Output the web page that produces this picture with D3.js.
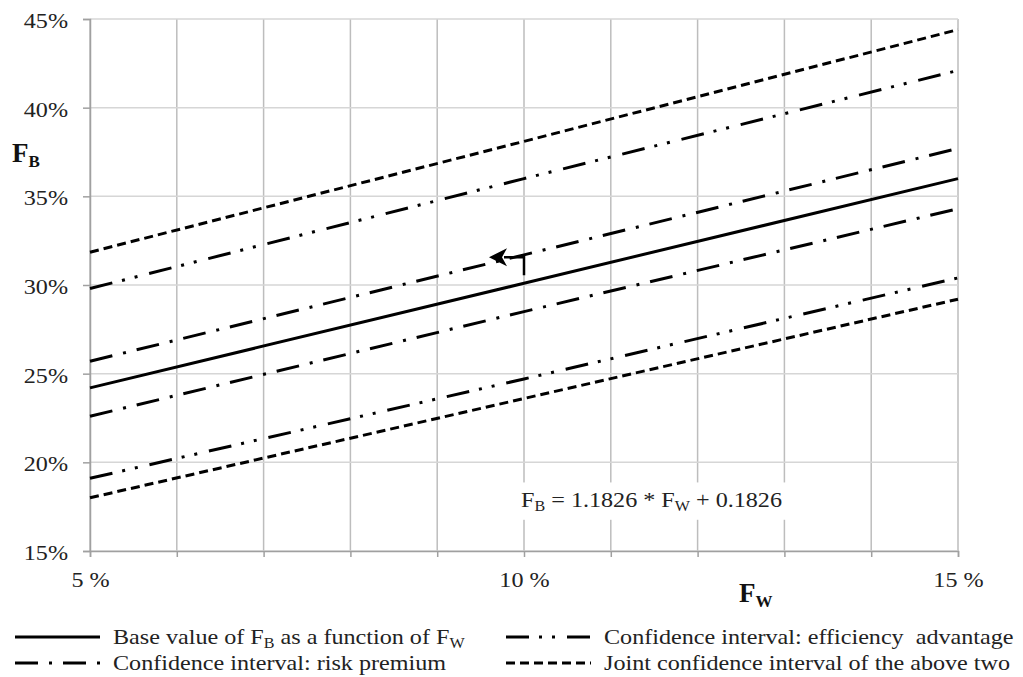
<!DOCTYPE html>
<html>
<head>
<meta charset="utf-8">
<script src="https://cdn.jsdelivr.net/npm/d3@7"></script>
<style>
  body { margin: 0; background: #fff; }
  svg text { font-family: "Liberation Serif", "Times New Roman", serif; fill: #222; white-space: pre; }
</style>
</head>
<body>
<div id="chart"></div>
<script>
// values (F_W on x, F_B on y)
var fw = [0.05, 0.10, 0.15];
var baseFB = [0.242, 0.301, 0.360];
var riskUpper = [0.257, 0.317, 0.377];
var riskLower = [0.226, 0.285, 0.343];
var effUpper = [0.298, 0.360, 0.421];
var effLower = [0.191, 0.247, 0.304];
var jointUpper = [0.3185, 0.381, 0.444];
var jointLower = [0.180, 0.236, 0.292];

var xTickLabels = [0.05, 0.10, 0.15];
var yTickValues = [0.15, 0.20, 0.25, 0.30, 0.35, 0.40, 0.45];

var width = 1023, height = 677;
var margin = {top: 19, right: 65, bottom: 126, left: 90};
var STRETCH = 1.15; // the original text is drawn a bit wide

var svg = d3.select('#chart')
  .append('svg')
  .attr('width', width)
  .attr('height', height);

// widen text horizontally around its anchor point
function stretch(sel) {
  sel.each(function () {
    var t = d3.select(this);
    var x0 = +t.attr('x') || 0, y0 = +t.attr('y') || 0;
    t.attr('x', 0).attr('y', 0)
      .attr('transform', 'translate(' + x0 + ',' + y0 + ') scale(' + STRETCH + ',1)');
  });
}

var x = d3.scaleLinear().domain([0.05, 0.15]).range([margin.left, width - margin.right]);
var y = d3.scaleLinear().domain([0.15, 0.45]).range([height - margin.bottom, margin.top]);

// grid
svg.append('g').selectAll('line')
  .data(x.ticks(10))
  .enter().append('line')
  .attr('x1', function (d) { return x(d) }).attr('x2', function (d) { return x(d) })
  .attr('y1', y(0.45)).attr('y2', y(0.15))
  .attr('stroke', '#bdbdbd').attr('stroke-width', 1.5);

svg.append('g').selectAll('line')
  .data(yTickValues)
  .enter().append('line')
  .attr('x1', x(0.05)).attr('x2', x(0.15))
  .attr('y1', function (d) { return y(d) }).attr('y2', function (d) { return y(d) })
  .attr('stroke', '#d6d6d6').attr('stroke-width', 1.5);

// axes
var yAxis = svg.append('g')
  .attr('transform', 'translate(' + x(0.05) + ',0)')
  .call(d3.axisLeft(y).tickValues(yTickValues).tickSize(7).tickPadding(15)
    .tickFormat(d3.format('.0%')));
yAxis.selectAll('text').attr('font-size', 21).attr('dy', '0.40em').call(stretch);

var xAxis = svg.append('g')
  .attr('transform', 'translate(0,' + y(0.15) + ')')
  .call(d3.axisBottom(x).tickValues(x.ticks(10)).tickSize(6).tickPadding(15)
    .tickFormat(function (d) {
      return xTickLabels.some(function (v) { return Math.abs(v - d) < 1e-9 })
        ? Math.round(d * 100) + ' %' : '';
    }));
xAxis.selectAll('text').attr('font-size', 21).call(stretch);

svg.selectAll('.domain').attr('stroke', '#a0a0a0').attr('stroke-width', 1.5);
svg.selectAll('.tick line').attr('stroke', '#a0a0a0').attr('stroke-width', 1.5);

// axis titles
var fbLabel = svg.append('text').attr('x', 12).attr('y', 162)
  .attr('font-size', 27).attr('font-weight', 'bold').style('fill', '#111');
fbLabel.append('tspan').text('F');
fbLabel.append('tspan').attr('dy', 5).attr('font-size', 17).text('B');

var fwLabel = svg.append('text').attr('x', 739).attr('y', 602)
  .attr('font-size', 27).attr('font-weight', 'bold').style('fill', '#111');
fwLabel.append('tspan').text('F');
fwLabel.append('tspan').attr('dy', 5).attr('font-size', 17).text('W');

// series
var series = [
  {name: 'base', values: baseFB, dash: null},
  {name: 'riskUpper', values: riskUpper, dash: '23,11,3,11'},
  {name: 'riskLower', values: riskLower, dash: '23,11,3,11'},
  {name: 'effUpper', values: effUpper, dash: '23,10,3,10,3,12'},
  {name: 'effLower', values: effLower, dash: '23,10,3,10,3,12'},
  {name: 'jointUpper', values: jointUpper, dash: '9,5'},
  {name: 'jointLower', values: jointLower, dash: '9,5'}
];

var line = d3.line()
  .x(function (d) { return x(d[0]) })
  .y(function (d) { return y(d[1]) });

svg.append('g').selectAll('path')
  .data(series)
  .enter().append('path')
  .attr('d', function (s) { return line(fw.map(function (f, i) { return [f, s.values[i]] })) })
  .attr('fill', 'none')
  .attr('stroke', '#000')
  .attr('stroke-width', 3)
  .attr('stroke-dasharray', function (s) { return s.dash });

// equation box
var eqG = svg.append('g');
var eq = eqG.append('text').attr('x', 782).attr('y', 507)
  .attr('text-anchor', 'end').attr('font-size', 21);
eq.append('tspan').text('F');
eq.append('tspan').attr('dy', 4).attr('font-size', 14).text('B');
eq.append('tspan').attr('dy', -4).text(' = 1.1826 * F');
eq.append('tspan').attr('dy', 4).attr('font-size', 14).text('W');
eq.append('tspan').attr('dy', -4).text(' + 0.1826');
eq.call(stretch);
var bb = eq.node().getBBox();
var eqLeft = 782 - bb.width * STRETCH;
eqG.insert('rect', 'text')
  .attr('x', eqLeft - 6).attr('y', 507 + bb.y - 6)
  .attr('width', bb.width * STRETCH + 12).attr('height', bb.height + 12)
  .attr('fill', '#fff');

// arrow at F_W = 10%
var ax = x(0.10), ay = y(baseFB[1]);
svg.append('path')
  .attr('d', 'M' + ax + ',' + (ay - 8) + 'V' + (ay - 26) + 'H' + (ax - 20))
  .attr('fill', 'none').attr('stroke', '#000').attr('stroke-width', 2.5);
svg.append('path')
  .attr('d', 'M' + (ax - 35) + ',' + (ay - 26) + 'L' + (ax - 17) + ',' + (ay - 35)
    + 'L' + (ax - 22) + ',' + (ay - 26) + 'L' + (ax - 17) + ',' + (ay - 17) + 'Z')
  .attr('fill', '#000');

// legend
var legend = [
  {label: ['Base value of F', 'B', ' as a function of F', 'W'], dash: null, x: 15, y: 644},
  {label: ['Confidence interval: risk premium'], dash: '23,11,3,11', x: 15, y: 670},
  {label: ['Confidence interval: efficiency  advantage'], dash: '23,10,3,10,3,12', x: 506, y: 644},
  {label: ['Joint confidence interval of the above two'], dash: '9,5', x: 506, y: 670}
];

var lg = svg.append('g').selectAll('g')
  .data(legend)
  .enter().append('g');

lg.append('line')
  .attr('x1', function (d) { return d.x }).attr('x2', function (d) { return d.x + 85 })
  .attr('y1', function (d) { return d.y - 7 }).attr('y2', function (d) { return d.y - 7 })
  .attr('stroke', '#000').attr('stroke-width', 3)
  .attr('stroke-dasharray', function (d) { return d.dash });

lg.each(function (d) {
  var t = d3.select(this).append('text')
    .attr('x', d.x + 98).attr('y', d.y).attr('font-size', 21);
  d.label.forEach(function (part, i) {
    var sub = i % 2 === 1;
    t.append('tspan')
      .attr('dy', i === 0 ? 0 : (sub ? 4 : -4))
      .attr('font-size', sub ? 14 : 21)
      .text(part);
  });
  t.call(stretch);
});
</script>
</body>
</html>
